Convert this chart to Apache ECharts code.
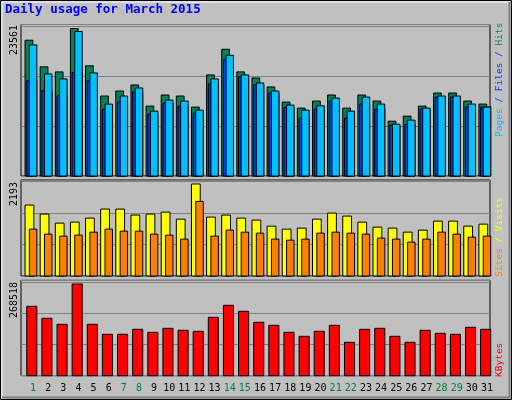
<!DOCTYPE html>
<html><head><meta charset="utf-8">
<script src="https://cdn.jsdelivr.net/npm/echarts@6/dist/echarts.min.js"></script>
<style>html,body{margin:0;padding:0;background:#C0C0C0}#c{width:512px;height:400px}</style>
</head><body><div id="c"></div>
<script>
var days = ['1','2','3','4','5','6','7','8','9','10','11','12','13','14','15','16','17','18','19','20','21','22','23','24','25','26','27','28','29','30','31'];
var weekend = [1,7,8,14,15,21,22,28,29];
var hits  = [21689,17434,16631,23561,17594,12775,13578,14542,11169,12936,12775,11008,16148,20244,16631,15667,14221,11812,10848,11973,12936,10848,12936,11973,8761,9564,11169,13257,13257,11973,11490];
var pages = [20940,16309,15506,23079,16470,11490,12775,14060,10366,12133,11973,10527,15506,19281,16148,14863,13578,11330,10527,11223,12454,10366,12615,11490,8279,8921,10848,12775,12775,11490,11008];
var files = [15239,13632,12829,16549,15239,10688,11812,13471,9885,11651,11169,10045,14702,18585,15828,14542,13257,10970,9243,10688,11973,9243,11490,10688,8118,8279,10688,12615,12615,11008,11008];
var visits = [1690,1476,1260,1284,1380,1595,1595,1452,1476,1523,1355,2193,1404,1452,1380,1332,1188,1117,1141,1355,1499,1428,1284,1165,1141,1045,1093,1308,1308,1188,1236];
var sites  = [1117,998,950,974,1045,1117,1069,1069,998,974,879,1778,950,1093,1045,1021,879,855,879,1021,1045,1021,998,903,879,807,879,1045,998,926,950];
var kbytes = [203220,168069,150493,268518,150493,121200,121200,135846,127058,138776,132917,129988,171000,206150,188575,156352,147563,127058,115340,129988,147563,97765,135846,138776,115340,97765,132917,124129,121200,141705,135846];

function bars(specs){
  return function(params, api){
    var i = api.value(0), ch = [];
    var w = api.size([1,0])[0], sc = w/15;
    specs.forEach(function(s){
      var p = api.coord([i, api.value(s.dim)]);
      var b = api.coord([i, 0]);
      ch.push({type:'rect', shape:{x:p[0]+s.a*sc, y:p[1], width:(s.b-s.a)*sc, height:b[1]-p[1]},
        style:{fill:s.c, stroke:s.stroke||'#000', lineWidth:1}});
    });
    return {type:'group', children:ch};
  };
}
var mono = 'DejaVu Sans Mono';
var grids = [{left:21,width:469,top:24.5,height:151.5},{left:21,width:469,top:180,height:96},{left:21,width:469,top:280.3,height:95.4}];
var chart = echarts.init(document.getElementById('c'));
function xa(g, show){
  return {type:'category', gridIndex:g, data:days, boundaryGap:true,
    axisLine:{show:false}, axisTick:{show:false}, splitLine:{show:false},
    axisLabel:{show:show, interval:0, fontFamily:mono, fontSize:10, margin:8, padding:[0,0,0,9],
      color:function(v){return weekend.indexOf(+v)>=0?'#008040':'#000';}}};
}
function ya(g, max, iv){
  return {type:'value', gridIndex:g, min:0, max:max, interval:iv,
    axisLabel:{show:false}, axisLine:{show:false}, axisTick:{show:false},
    splitLine:{show:true, lineStyle:{color:'#808080', width:1}}};
}
var idx = days.map(function(d,i){return i;});
chart.setOption({
  animation:false, backgroundColor:'#C0C0C0',
  grid: grids.map(function(g){return Object.assign({show:true, borderColor:'#000', borderWidth:1, backgroundColor:'#C0C0C0'}, g);}),
  xAxis:[xa(0,false), xa(1,false), xa(2,true)],
  yAxis:[ya(0,24202,8000), ya(1,2288,750), ya(2,279350,91000)],
  series:[
    {type:'custom', xAxisIndex:0, yAxisIndex:0, encode:{x:0,y:[1,2,3]},
     data: idx.map(function(i){return [i,hits[i],files[i],pages[i]];}),
     renderItem: bars([{dim:1,a:-3.5,b:4.2,c:'#00805C'},{dim:2,a:-1.8,b:8.2,c:'#0040FF'},{dim:3,a:0.8,b:8.2,c:'#00C0FF'}])},
    {type:'custom', xAxisIndex:1, yAxisIndex:1, encode:{x:0,y:[1,2]},
     data: idx.map(function(i){return [i,visits[i],sites[i]];}),
     renderItem: bars([{dim:1,a:-3.5,b:5.2,c:'#FFFF00'},{dim:2,a:0.8,b:8.2,c:'#FF8000'}])},
    {type:'custom', xAxisIndex:2, yAxisIndex:2, encode:{x:0,y:1},
     data: idx.map(function(i){return [i,kbytes[i]];}),
     renderItem: bars([{dim:1,a:-1.8,b:8.2,c:'#FF0000'}])}
  ],
  graphic:[
    {type:'rect', shape:{x:0.5,y:0.5,width:511,height:399}, style:{fill:'none', stroke:'#000', lineWidth:1}},
    {type:'polyline', shape:{points:[[2,398],[2,2],[510,2]]}, style:{stroke:'#fff', lineWidth:1, fill:'none'}},
    {type:'polyline', shape:{points:[[2,397.5],[509.5,397.5],[509.5,2]]}, style:{stroke:'#808080', lineWidth:2, fill:'none'}},
    {type:'text', x:5, y:16, style:{text:'Daily usage for March 2015', font:'bold 12.5px "DejaVu Sans Mono"', fill:'#0000FF', textVerticalAlign:'bottom'}},
    {type:'text', x:14, y:25, rotation:Math.PI/2, style:{text:'23561', font:'10px "DejaVu Sans Mono"', fill:'#000', textAlign:'right', textVerticalAlign:'middle'}},
    {type:'text', x:14, y:182, rotation:Math.PI/2, style:{text:'2193', font:'10px "DejaVu Sans Mono"', fill:'#000', textAlign:'right', textVerticalAlign:'middle'}},
    {type:'text', x:14, y:282, rotation:Math.PI/2, style:{text:'268518', font:'10px "DejaVu Sans Mono"', fill:'#000', textAlign:'right', textVerticalAlign:'middle'}},
    {type:'text', x:500, y:137, rotation:Math.PI/2, style:{rich:{p:{fill:'#00C0FF'},f:{fill:'#0040FF'},h:{fill:'#00805C'}}, text:'{p|Pages}{f| / Files / }{h|Hits}', font:'9.5px "DejaVu Sans Mono"', textAlign:'left', textVerticalAlign:'middle', fontFamily:mono, fontSize:9.5}},
    {type:'text', x:500, y:277, rotation:Math.PI/2, style:{rich:{s:{fill:'#FF8000'},v:{fill:'#FFFF00'}}, text:'{s|Sites}{v| / Visits}', font:'9.5px "DejaVu Sans Mono"', textAlign:'left', textVerticalAlign:'middle', fontFamily:mono, fontSize:9.5}},
    {type:'text', x:500, y:377, rotation:Math.PI/2, style:{text:'KBytes', font:'9.5px "DejaVu Sans Mono"', fill:'#FF0000', textAlign:'left', textVerticalAlign:'middle'}}
  ]
});
</script></body></html>
